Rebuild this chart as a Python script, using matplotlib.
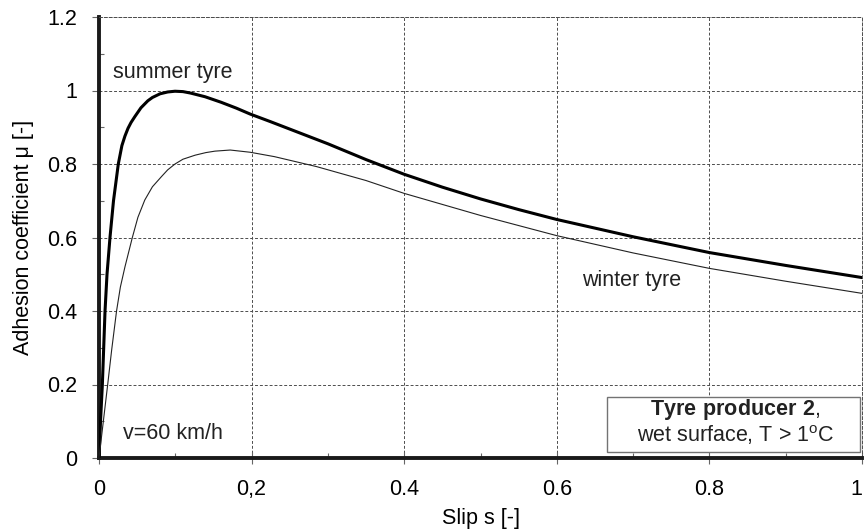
import matplotlib.pyplot as plt
from matplotlib.patches import Rectangle
from matplotlib.ticker import FixedLocator

plt.rcParams['font.family'] = ['Liberation Sans', 'DejaVu Sans']
plt.rcParams['mathtext.fontset'] = 'custom'
plt.rcParams['mathtext.rm'] = 'Liberation Sans'
plt.rcParams['mathtext.bf'] = 'Liberation Sans:bold'

# summer tyre
slip_summer = [0, 0.002, 0.0044, 0.0079, 0.0105, 0.0144, 0.019, 0.0253, 0.03, 0.034,
               0.038, 0.042, 0.047, 0.055, 0.064, 0.07, 0.08, 0.09, 0.0996, 0.11,
               0.12, 0.139, 0.16, 0.18, 0.198, 0.225, 0.25, 0.3, 0.35, 0.4,
               0.45, 0.5, 0.55, 0.6, 0.7, 0.8, 0.9, 1.0]
mu_summer = [0, 0.1, 0.2, 0.4, 0.5, 0.6, 0.7, 0.8, 0.85, 0.876,
             0.897, 0.913, 0.929, 0.953, 0.972, 0.981, 0.991, 0.996, 0.998, 0.997,
             0.993, 0.983, 0.968, 0.952, 0.936, 0.915, 0.895, 0.855, 0.812, 0.772,
             0.737, 0.705, 0.676, 0.649, 0.602, 0.559, 0.524, 0.491]

# winter tyre
slip_winter = [0, 0.0114, 0.0166, 0.023, 0.028, 0.034, 0.0437, 0.051, 0.06, 0.07,
               0.082, 0.09, 0.0996, 0.11, 0.126, 0.14, 0.152, 0.172, 0.198, 0.23,
               0.285, 0.35, 0.4, 0.46, 0.5, 0.6, 0.7, 0.8, 0.9, 1.0]
mu_winter = [0, 0.2, 0.294, 0.4, 0.465, 0.52, 0.6, 0.655, 0.702, 0.738,
             0.766, 0.784, 0.8, 0.813, 0.824, 0.831, 0.835, 0.838, 0.832, 0.82,
             0.793, 0.755, 0.72, 0.684, 0.66, 0.605, 0.558, 0.516, 0.481, 0.448]

xticks = [0, 0.2, 0.4, 0.6, 0.8, 1.0]
xticklabels = ['0', '0,2', '0.4', '0.6', '0.8', '1']
yticks = [0, 0.2, 0.4, 0.6, 0.8, 1.0, 1.2]
yticklabels = ['0', '0.2', '0.4', '0.6', '0.8', '1', '1.2']

fs = 15.5
dash = (0, (3, 2))

fig = plt.figure(figsize=(8.64, 5.3), dpi=100)
ax = fig.add_axes([99 / 864, 1 - 458 / 530, 763 / 864, 441 / 530])

ax.plot(slip_summer, mu_summer, color='black', lw=2.2, zorder=3)
ax.plot(slip_winter, mu_winter, color='#222222', lw=0.8, zorder=3)

ax.set_xlim(0, 1)
ax.set_ylim(0, 1.2)
ax.set_xticks(xticks)
ax.set_xticklabels(xticklabels, fontsize=fs)
ax.set_yticks(yticks)
ax.set_yticklabels(yticklabels, fontsize=fs)
ax.get_xticklabels()[-1].set_horizontalalignment('right')
ax.xaxis.set_minor_locator(FixedLocator([0.1, 0.3, 0.5, 0.7, 0.9]))
ax.yaxis.set_minor_locator(FixedLocator([0.1, 0.3, 0.5, 0.7, 0.9, 1.1]))

ax.tick_params(axis='x', which='major', direction='inout', length=8, width=0.8,
               color='0.4', pad=11)
ax.tick_params(axis='y', which='major', direction='out', length=5, width=0.8,
               color='0.4', pad=11)
ax.tick_params(which='minor', direction='in', length=3.5, width=0.8, color='0.4')

ax.grid(True, which='major', color='0.3', lw=0.7, linestyle=dash)

for side in ['left', 'bottom']:
    ax.spines[side].set_linewidth(2.8)
    ax.spines[side].set_color('#1a1a1a')
for side in ['top', 'right']:
    ax.spines[side].set_linewidth(0.7)
    ax.spines[side].set_color('0.3')
    ax.spines[side].set_linestyle(dash)

ax.set_xlabel('Slip s [-]', fontsize=fs, labelpad=6)
ax.set_ylabel('Adhesion coefficient μ [-]', fontsize=fs, labelpad=9)

ax.text(0.018, 1.05, 'summer tyre', fontsize=fs, ha='left', va='center', color='#222222')
ax.text(0.633, 0.484, 'winter tyre', fontsize=fs, ha='left', va='center', color='#222222')
ax.text(0.032, 0.068, 'v=60 km/h', fontsize=fs, ha='left', va='center', color='#222222')

ax.add_patch(Rectangle((0.666, 0.016), 0.332, 0.15, facecolor='white',
                       edgecolor='0.45', lw=1.0, zorder=4))
ax.text(0.834, 0.131, r'$\mathbf{Tyre\ producer\ 2}$,', fontsize=fs, ha='center',
        va='center', color='#222222', zorder=5)
ax.text(0.834, 0.063, r'wet surface, T > 1$^{\mathrm{o}}$C', fontsize=fs, ha='center',
        va='center', color='#222222', zorder=5)

fig.savefig('out.png', dpi=100)
